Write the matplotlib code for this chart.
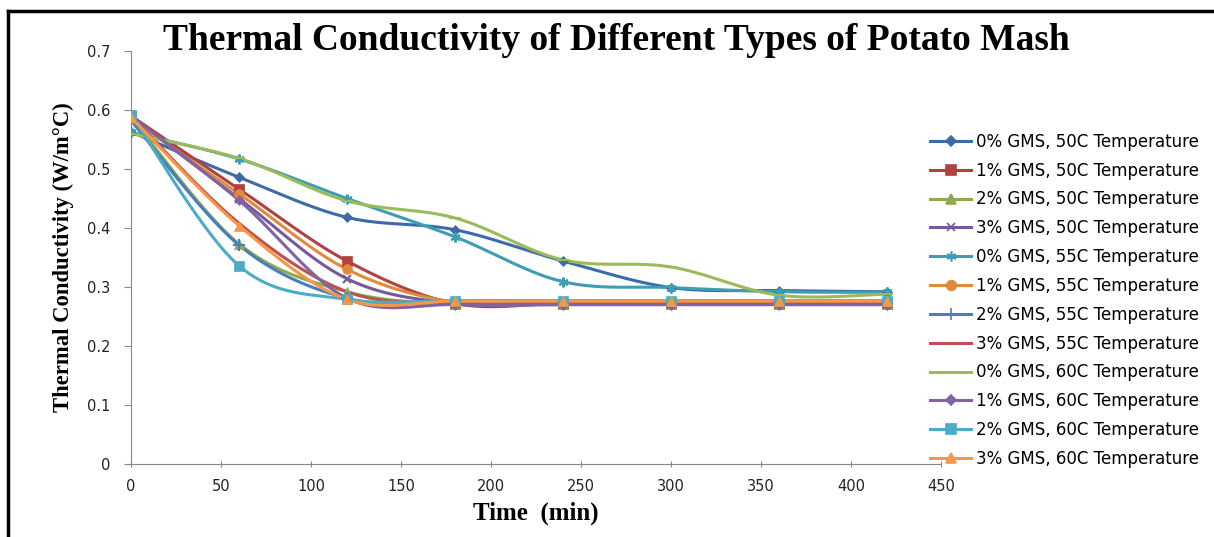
import numpy as np
import matplotlib
matplotlib.use('Agg')
import matplotlib.pyplot as plt
from matplotlib.lines import Line2D

time_min = [0, 60, 120, 180, 240, 300, 360, 420]

labels = [
    '0% GMS, 50C Temperature', '1% GMS, 50C Temperature',
    '2% GMS, 50C Temperature', '3% GMS, 50C Temperature',
    '0% GMS, 55C Temperature', '1% GMS, 55C Temperature',
    '2% GMS, 55C Temperature', '3% GMS, 55C Temperature',
    '0% GMS, 60C Temperature', '1% GMS, 60C Temperature',
    '2% GMS, 60C Temperature', '3% GMS, 60C Temperature',
]

gms0_50 = [0.563, 0.486, 0.418, 0.397, 0.344, 0.299, 0.294, 0.292]
gms1_50 = [0.590, 0.466, 0.344, 0.272, 0.272, 0.272, 0.272, 0.272]
gms2_50 = [0.588, 0.373, 0.292, 0.271, 0.271, 0.271, 0.271, 0.271]
gms3_50 = [0.588, 0.450, 0.314, 0.272, 0.272, 0.272, 0.272, 0.272]
gms0_55 = [0.562, 0.517, 0.450, 0.385, 0.309, 0.299, 0.292, 0.291]
gms1_55 = [0.585, 0.458, 0.330, 0.274, 0.274, 0.274, 0.274, 0.274]
gms2_55 = [0.582, 0.371, 0.281, 0.273, 0.273, 0.273, 0.273, 0.273]
gms3_55 = [0.590, 0.408, 0.292, 0.272, 0.272, 0.272, 0.272, 0.272]
gms0_60 = [0.560, 0.518, 0.446, 0.417, 0.346, 0.334, 0.286, 0.288]
gms1_60 = [0.590, 0.447, 0.281, 0.270, 0.270, 0.270, 0.270, 0.270]
gms2_60 = [0.592, 0.336, 0.279, 0.277, 0.277, 0.277, 0.277, 0.277]
gms3_60 = [0.588, 0.404, 0.279, 0.276, 0.276, 0.276, 0.276, 0.276]

series = [gms0_50, gms1_50, gms2_50, gms3_50, gms0_55, gms1_55,
          gms2_55, gms3_55, gms0_60, gms1_60, gms2_60, gms3_60]

colors = ['#3d6aa8', '#b0413e', '#8cab4d', '#75599a', '#3e9db5', '#e08a3c',
          '#4a7ebb', '#c0504d', '#9bbb59', '#8064a2', '#4bacc6', '#f79646']
markers = ['D', 's', '^', 'x', (6, 2, 0), 'o', '+', None, '_', 'D', 's', '^']
msizes = [5, 7, 7, 6, 7, 7, 8, 0, 8, 5, 7, 7]


def smooth(x, y, n=30):
    # excel-like bezier smoothing (catmull-rom control points)
    x = np.asarray(x, float)
    y = np.asarray(y, float)
    px, py = [], []
    for i in range(len(x) - 1):
        i0 = max(i - 1, 0)
        i3 = min(i + 2, len(x) - 1)
        c1x = x[i] + (x[i + 1] - x[i0]) / 6
        c1y = y[i] + (y[i + 1] - y[i0]) / 6
        c2x = x[i + 1] - (x[i3] - x[i]) / 6
        c2y = y[i + 1] - (y[i3] - y[i]) / 6
        t = np.linspace(0, 1, n)
        bx = ((1 - t) ** 3 * x[i] + 3 * (1 - t) ** 2 * t * c1x
              + 3 * (1 - t) * t ** 2 * c2x + t ** 3 * x[i + 1])
        by = ((1 - t) ** 3 * y[i] + 3 * (1 - t) ** 2 * t * c1y
              + 3 * (1 - t) * t ** 2 * c2y + t ** 3 * y[i + 1])
        px.extend(bx)
        py.extend(by)
    return px, py


fig = plt.figure(figsize=(12.14, 5.37), dpi=100)
ax = fig.add_axes([131 / 1214, 73 / 537, 810 / 1214, 413 / 537])

handles = []
for ys, c, m, ms, lab in zip(series, colors, markers, msizes, labels):
    sx, sy = smooth(time_min, ys)
    ax.plot(sx, sy, color=c, linewidth=2.2, zorder=2)
    if m is not None:
        mew = 1.5 if m in ('x', '+', '_') or isinstance(m, tuple) else 0.5
        ax.plot(time_min, ys, linestyle='none', marker=m, markersize=ms,
                color=c, markeredgecolor=c, markeredgewidth=mew, zorder=3)
    handles.append(Line2D([], [], color=c, linewidth=2.2, marker=m,
                          markersize=ms, markeredgewidth=1.2 if m else 0))

ax.set_xlim(0, 450)
ax.set_ylim(0, 0.7)
ax.set_xticks(np.arange(0, 451, 50))
ax.set_yticks(np.arange(0, 0.71, 0.1))
ax.set_yticklabels(['0', '0.1', '0.2', '0.3', '0.4', '0.5', '0.6', '0.7'])
for s in ['top', 'right']:
    ax.spines[s].set_visible(False)
for s in ['left', 'bottom']:
    ax.spines[s].set_color('#888888')
ax.tick_params(axis='both', colors='#888888', labelcolor='#222222',
               labelsize=10.5, length=5)
ax.tick_params(axis='x', direction='inout', pad=8)
ax.tick_params(axis='y', pad=10)

ax.set_xlabel('Time  (min)', family='Liberation Serif', fontweight='bold',
              fontsize=18, labelpad=6)
ax.set_ylabel('Thermal Conductivity (W/m\u00b0C)', family='Liberation Serif',
              fontweight='bold', fontsize=16.3, labelpad=9)

fig.text(616 / 1214, 1 - 41 / 537, 'Thermal Conductivity of Different Types of Potato Mash',
         family='Liberation Serif', fontweight='bold', fontsize=27,
         ha='center', va='center')

fig.legend(handles, labels, loc='upper left', bbox_to_anchor=(923 / 1214, 1 - 126 / 537),
           frameon=False, fontsize=12, handlelength=2.5, handletextpad=0.3,
           labelspacing=0.65, borderaxespad=0)

# border around the chart area
fig.add_artist(Line2D([8 / 1214, 8 / 1214], [0, 1 - 11 / 537], color='black',
                      linewidth=2.5, transform=fig.transFigure))
fig.add_artist(Line2D([8 / 1214, 1], [1 - 11 / 537, 1 - 11 / 537], color='black',
                      linewidth=2.5, transform=fig.transFigure))

fig.savefig('out.png', dpi=100)
plt.close(fig)
